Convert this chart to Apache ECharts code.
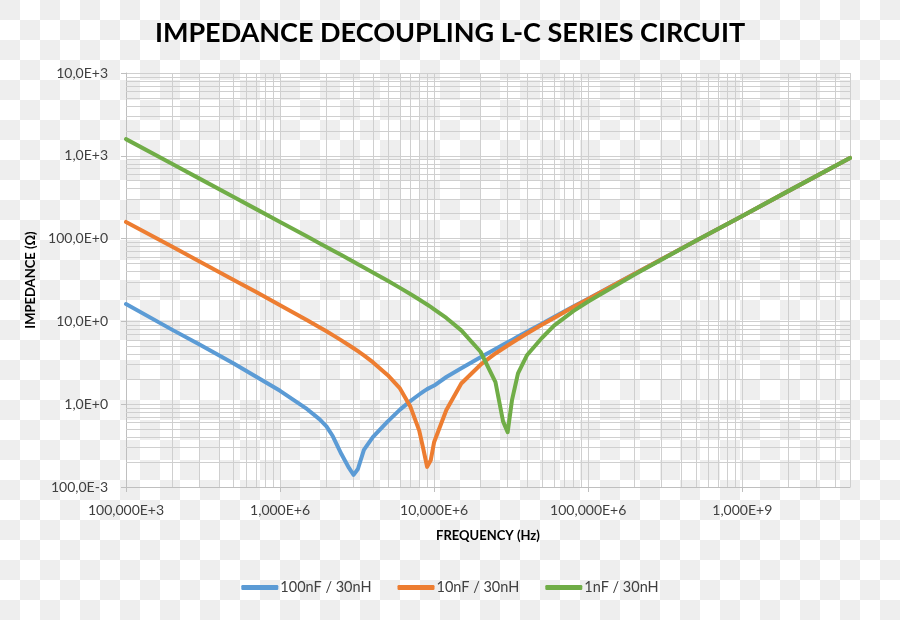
<!DOCTYPE html>
<html>
<head>
<meta charset="utf-8">
<script src="https://cdn.jsdelivr.net/npm/echarts@6/dist/echarts.min.js"></script>
<style>
  html, body { margin: 0; padding: 0; }
  body {
    width: 900px; height: 620px; overflow: hidden;
    background-color: #ffffff;
    background-image:
      linear-gradient(45deg, #eeeeee 25%, transparent 25%, transparent 75%, #eeeeee 75%),
      linear-gradient(45deg, #eeeeee 25%, transparent 25%, transparent 75%, #eeeeee 75%);
    background-size: 40px 40px;
    background-position: 20px 0, 0 20px;
  }
  #chart { width: 900px; height: 620px; }
</style>
</head>
<body>
<div id="chart"></div>
<script>
// Frequencies (Hz)
const frequency = [1e5, 2e5, 3e5, 5e5, 7e5, 1e6, 1.5e6, 1.8e6, 2e6, 2.2e6, 2.5e6, 2.8e6, 3e6, 3.2e6, 3.5e6, 4e6, 5e6, 6e6, 7e6, 8e6, 8.5e6, 9e6, 9.5e6, 1e7, 1.2e7, 1.5e7, 2e7, 2.5e7, 2.8e7, 3e7, 3.2e7, 3.5e7, 4e7, 5e7, 6e7, 8e7, 1e8, 2e8, 5e8, 1e9, 2e9, 5e9];

// Impedance (Ohm)
const z100nF = [16.2, 7.9, 5.25, 3.1, 2.15, 1.45, 0.87, 0.66, 0.54, 0.41, 0.25, 0.17, 0.14, 0.165, 0.28, 0.40, 0.62, 0.86, 1.09, 1.31, 1.42, 1.52, 1.60, 1.68, 2.13, 2.72, 3.69, 4.65, 5.22, 5.60, 5.98, 6.55, 7.50, 9.39, 11.3, 15.1, 18.8, 37.7, 94.2, 188, 377, 942];
const z10nF  = [159, 79.5, 53, 31.7, 22.6, 15.7, 10.3, 8.5, 7.6, 6.82, 5.9, 5.16, 4.74, 4.37, 3.89, 3.22, 2.24, 1.55, 0.94, 0.48, 0.29, 0.175, 0.21, 0.35, 0.85, 1.78, 3.0, 4.1, 4.71, 5.12, 5.53, 6.14, 7.14, 9.1, 11.0, 14.9, 18.7, 37.6, 94.2, 188, 377, 942];
const z1nF   = [1590, 796, 530, 318, 227, 159, 106, 88.1, 79.2, 71.9, 63.2, 56.3, 52.5, 49.1, 44.8, 39.0, 30.9, 25.4, 21.4, 18.4, 17.1, 16.0, 15.0, 14.0, 11.0, 7.8, 4.3, 1.85, 0.62, 0.46, 1.12, 2.35, 3.9, 6.3, 8.9, 13.3, 17.4, 36.9, 93.9, 188, 377, 942];

const seriesNames = ['100nF / 30nH', '10nF / 30nH', '1nF / 30nH'];

// Tick labels
const xTickValues = [1e5, 1e6, 1e7, 1e8, 1e9];
const xTickLabels = ['100,000E+3', '1,000E+6', '10,000E+6', '100,000E+6', '1,000E+9'];
const yTickValues = [0.1, 1, 10, 100, 1000, 10000];
const yTickLabels = ['100,0E-3', '1,0E+0', '10,0E+0', '100,0E+0', '1,0E+3', '10,0E+3'];

// Minor grid positions (multiples within each decade)
const minorMultipliers = [2, 3, 4, 5, 6, 7, 8, 9];
const xDecades = [1e5, 1e6, 1e7, 1e8, 1e9];
const yDecades = [0.1, 1, 10, 100, 1000];

const X_MAX = 5e9;
const minorX = [];
xDecades.forEach(d => minorMultipliers.forEach(m => { if (d * m <= X_MAX * 1.0001) minorX.push(d * m); }));
const minorY = [];
yDecades.forEach(d => minorMultipliers.forEach(m => minorY.push(d * m)));

function labelFor(values, labels, v) {
  for (let i = 0; i < values.length; i++) {
    if (Math.abs(Math.log10(v) - Math.log10(values[i])) < 1e-6) return labels[i];
  }
  return '';
}

const FONT = 'Lato';
const colors = ['#5B9BD5', '#ED7D31', '#70AD47'];
const gridColor = '#cfcfcf';

function pairs(ys) { return frequency.map((f, i) => [f, ys[i]]); }

const chart = echarts.init(document.getElementById('chart'), null, { renderer: 'canvas' });

const lineSeries = [z100nF, z10nF, z1nF].map((ys, i) => ({
  name: seriesNames[i],
  type: 'line',
  data: pairs(ys),
  showSymbol: false,
  symbol: 'none',
  smooth: false,
  z: 10,
  lineStyle: { color: colors[i], width: 4, cap: 'round', join: 'round' },
  itemStyle: { color: colors[i] },
  emphasis: { disabled: true }
}));

const gridSeries = {
  name: 'grid',
  type: 'line',
  data: [],
  silent: true,
  z: 1,
  markLine: {
    silent: true,
    z: 1,
    symbol: ['none', 'none'],
    animation: false,
    label: { show: false },
    lineStyle: { color: gridColor, width: 1, type: 'solid' },
    emphasis: { disabled: true },
    data: minorX.map(v => ({ xAxis: v })).concat(minorY.map(v => ({ yAxis: v })))
  }
};

chart.setOption({
  backgroundColor: 'transparent',
  animation: false,
  color: colors,
  textStyle: { fontFamily: FONT },
  title: {
    text: 'IMPEDANCE DECOUPLING L-C SERIES CIRCUIT',
    left: 'center',
    top: 15,
    textStyle: { fontFamily: FONT, fontSize: 27, fontWeight: 'bold', color: '#000000' }
  },
  legend: {
    data: seriesNames,
    left: 'center',
    top: 575,
    icon: 'roundRect',
    itemWidth: 37,
    itemHeight: 5,
    itemGap: 26,
    textStyle: { fontFamily: FONT, fontSize: 14.5, color: '#404040', padding: [0, 0, 0, -3] }
  },
  grid: { left: 126, right: 50, top: 73, bottom: 133, containLabel: false },
  xAxis: {
    type: 'log',
    logBase: 10,
    min: 1e5,
    max: X_MAX,
    name: 'FREQUENCY (Hz)',
    nameLocation: 'middle',
    nameGap: 42,
    nameTextStyle: { fontFamily: FONT, fontSize: 13, fontWeight: 'bold', color: '#000000' },
    axisLine: { show: true, lineStyle: { color: '#bfbfbf', width: 1 } },
    axisTick: { show: true, length: 5, lineStyle: { color: '#bfbfbf' } },
    axisLabel: {
      margin: 16,
      fontFamily: FONT, fontSize: 14, color: '#404040',
      showMaxLabel: false,
      formatter: v => labelFor(xTickValues, xTickLabels, v)
    },
    splitLine: { show: true, lineStyle: { color: gridColor, width: 1 } },
    minorTick: { show: false },
    minorSplitLine: { show: false }
  },
  yAxis: {
    type: 'log',
    logBase: 10,
    min: 0.1,
    max: 10000,
    name: 'IMPEDANCE (Ω)',
    nameLocation: 'middle',
    nameGap: 80,
    nameRotate: 90,
    nameTextStyle: { fontFamily: FONT, fontSize: 13, fontWeight: 'bold', color: '#000000' },
    axisLine: { show: true, lineStyle: { color: '#bfbfbf', width: 1 } },
    axisTick: { show: true, length: 5, lineStyle: { color: '#bfbfbf' } },
    axisLabel: {
      margin: 18,
      fontFamily: FONT, fontSize: 14, color: '#404040',
      formatter: v => labelFor(yTickValues, yTickLabels, v)
    },
    splitLine: { show: true, lineStyle: { color: gridColor, width: 1 } }
  },
  series: [gridSeries].concat(lineSeries)
});
</script>
</body>
</html>
